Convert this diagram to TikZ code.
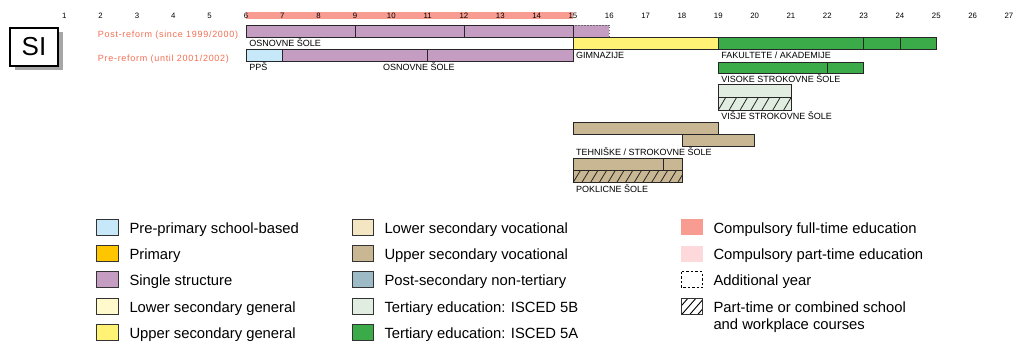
\documentclass[tikz,border=0pt]{standalone}
\usepackage{fontspec}
\setmainfont{Liberation Sans}
\newfontfamily\spacedfont[LetterSpace=8]{Liberation Sans}
\definecolor{compfull}{HTML}{F89C91}
\definecolor{comppart}{HTML}{FDD9DB}
\definecolor{singlestr}{HTML}{C69DC2}
\definecolor{preprim}{HTML}{C7E8F8}
\definecolor{primary}{HTML}{FFC600}
\definecolor{lowgen}{HTML}{FFF9CC}
\definecolor{uppgen}{HTML}{FFF275}
\definecolor{lowvoc}{HTML}{F4E6C3}
\definecolor{uppvoc}{HTML}{C8B792}
\definecolor{postsec}{HTML}{9DBBC6}
\definecolor{tertb}{HTML}{E0EDE0}
\definecolor{terta}{HTML}{3BAB4A}
\definecolor{reformtext}{HTML}{F26E52}
\tikzset{
  bar/.style={draw=black!85, line width=0.8pt},
  hatch/.style={draw=black!85, line width=0.8pt},
  schoollabel/.style={anchor=base west, inner sep=0pt, font=\fontsize{9}{10}\selectfont},
  reformlabel/.style={anchor=base west, inner sep=0pt, text=reformtext, font=\spacedfont\fontsize{9}{10}\selectfont},
  agelabel/.style={anchor=base, inner sep=0pt, font=\fontsize{7.8}{9}\selectfont},
  swatch/.style={draw=black!80, line width=0.9pt},
  legendtext/.style={anchor=base west, inner sep=0pt, font=\fontsize{14.8}{17.5}\selectfont}
}
\begin{document}
\begin{tikzpicture}[x=1pt,y=-1pt]
\useasboundingbox (0,0) rectangle (1013,341);
% country box
\fill[black!35] (15,32) rectangle (63,70);
\draw[fill=white, line width=1.2pt] (10,28) rectangle (58,66);
\node (si) at (34,47) {\fontsize{26}{28}\selectfont SI};
\node[reformlabel] (postref) at (97.7,37) {Post-reform (since 1999/2000)};
\node[reformlabel] (preref) at (97.7,61.3) {Pre-reform (until 2001/2002)};
% ages
\begin{scope}[shift={(28,0)}, x=36.333pt]
\fill[compfull] (6,12) rectangle (15,19);
\foreach \a in {1,...,27}
  \node[agelabel] (age\a) at (\a,18.7) {\a};
% post-reform
\draw[fill=singlestr, draw=black!60, line width=0.8pt, dash pattern=on 1.5pt off 1.5pt] (15,25) rectangle (16,37);
\draw[bar, fill=singlestr] (6,25) rectangle (15,37);
\draw[bar] (9,25) -- (9,37);
\draw[bar] (12,25) -- (12,37);
\node[schoollabel] (osnpost) at (6.09,46.5) {OSNOVNE ŠOLE};
% pre-reform
\draw[bar, fill=preprim] (6,49) rectangle (7,61);
\draw[bar, fill=singlestr] (7,49) rectangle (15,61);
\draw[bar] (11,49) -- (11,61);
\node[schoollabel] (pps) at (6.09,70.5) {PPŠ};
\node[schoollabel] (osnpre) at (9.77,70.5) {OSNOVNE ŠOLE};
% upper secondary general
\draw[bar, fill=uppgen] (15,37) rectangle (19,49);
\node[schoollabel] (gimn) at (15.08,58.5) {GIMNAZIJE};
% tertiary
\draw[bar, fill=terta] (19,37) rectangle (25,49);
\draw[bar] (23,37) -- (23,49);
\draw[bar] (24,37) -- (24,49);
\node[schoollabel] (fak) at (19.08,58.5) {FAKULTETE / AKADEMIJE};
\draw[bar, fill=terta] (19,62) rectangle (23,73.3);
\draw[bar] (22,62) -- (22,73.3);
\node[schoollabel] (visoke) at (19.08,82.8) {VISOKE STROKOVNE ŠOLE};
\fill[tertb] (19,84.3) rectangle (21,110);
\begin{scope}
\clip (19,97) rectangle (21,110);
\foreach \h in {0,...,7}
  \draw[hatch] ({19+0.3*\h},110) -- ++(0.21,-13);
\end{scope}
\draw[bar] (19,84.3) rectangle (21,110);
\draw[bar] (19,97) -- (21,97);
\node[schoollabel] (visje) at (19.08,119.5) {VIŠJE STROKOVNE ŠOLE};
% upper secondary vocational
\draw[bar, fill=uppvoc] (15,122.7) rectangle (19,134);
\draw[bar, fill=uppvoc] (18,134) rectangle (20,146);
\node[schoollabel] (tehn) at (15.08,155.3) {TEHNIŠKE / STROKOVNE ŠOLE};
\fill[uppvoc] (15,158.7) rectangle (18,182.7);
\begin{scope}
\clip (15,170.7) rectangle (18,182.7);
\foreach \h in {0,...,13}
  \draw[hatch] ({15+0.24*\h},182.7) -- ++(0.2,-12);
\end{scope}
\draw[bar] (15,158.7) rectangle (18,182.7);
\draw[bar] (15,170.7) -- (18,170.7);
\draw[bar] (17.5,158.7) -- (17.5,170.7);
\node[schoollabel] (pokl) at (15.08,192.2) {POKLICNE ŠOLE};
\end{scope}
% legend
\foreach \col/\txt [count=\k from 0] in {preprim/Pre-primary school-based, primary/Primary,
    singlestr/Single structure, lowgen/Lower secondary general, uppgen/Upper secondary general}{
  \draw[swatch, fill=\col] (96.7,{219.3+26.3*\k}) rectangle ++(21.6,16);
  \node[legendtext] (lega\k) at (129.3,{233.3+26.3*\k}) {\txt};
}
\foreach \col/\txt [count=\k from 0] in {lowvoc/Lower secondary vocational, uppvoc/Upper secondary vocational,
    postsec/Post-secondary non-tertiary, tertb/Tertiary education: ISCED 5B, terta/Tertiary education: ISCED 5A}{
  \draw[swatch, fill=\col] (352.3,{219.3+26.3*\k}) rectangle ++(21.6,16);
  \node[legendtext] (legb\k) at (384.3,{233.3+26.3*\k}) {\txt};
}
\fill[compfull] (681,219.3) rectangle ++(21.6,16);
\node[legendtext] (legc0) at (713.3,233.3) {Compulsory full-time education};
\fill[comppart] (681,245.6) rectangle ++(21.6,16);
\node[legendtext] (legc1) at (713.3,259.6) {Compulsory part-time education};
\draw[line width=0.9pt, dash pattern=on 2.5pt off 2pt] (681,271.9) rectangle ++(21.6,16);
\node[legendtext] (legc2) at (713.3,285.9) {Additional year};
\begin{scope}
\clip (681,298.2) rectangle ++(21.6,16);
\foreach \h in {0,...,3}
  \draw[line width=0.9pt] ({674+8*\h},314.2) -- ++(14,-16);
\end{scope}
\draw[swatch] (681,298.2) rectangle ++(21.6,16);
\node[legendtext, anchor=north west, align=left] (legc3) at (713.3,301.1) {Part-time or combined school\\and workplace courses};
\end{tikzpicture}
\end{document}
